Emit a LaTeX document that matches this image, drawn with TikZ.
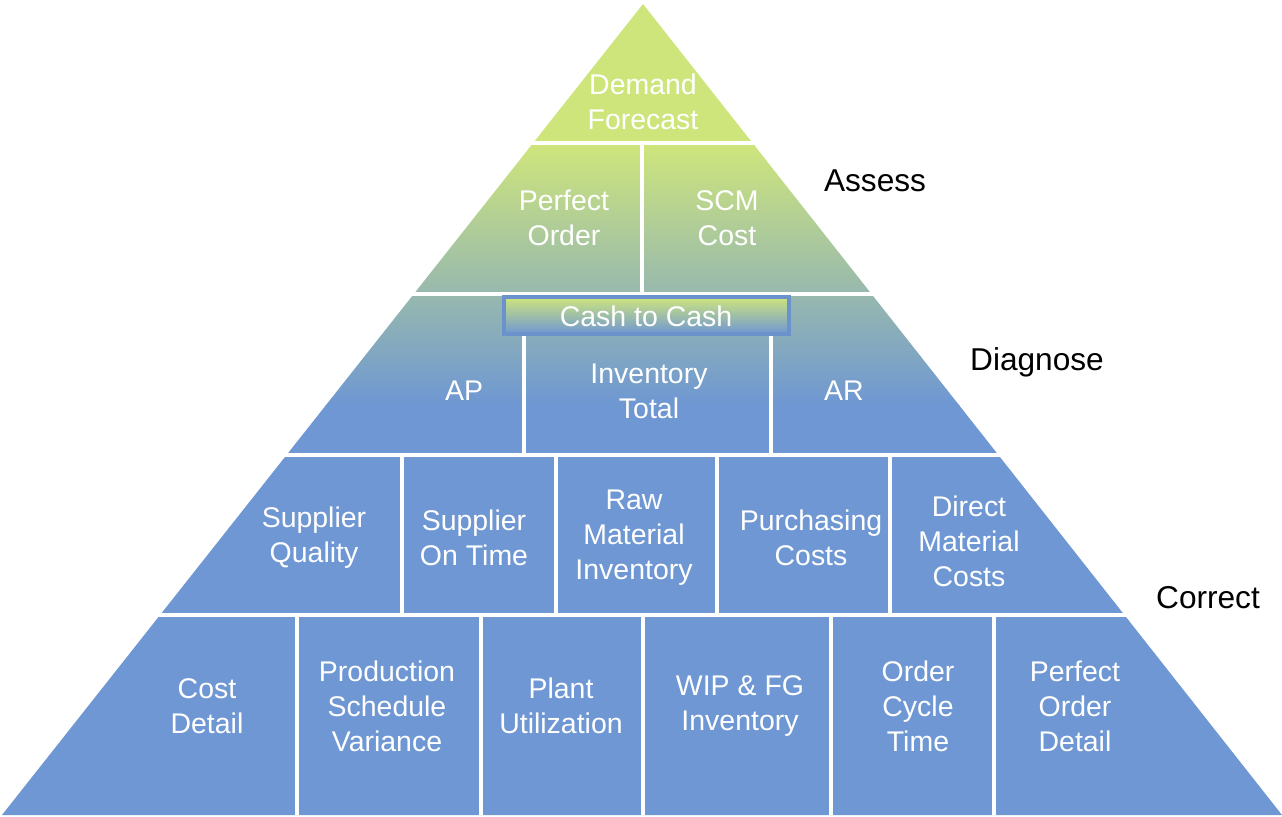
\documentclass[tikz,border=0pt]{standalone}
\usepackage{fontspec}
\setmainfont{Liberation Sans}
\definecolor{pygreen}{RGB}{206,229,124}
\definecolor{pyblue}{RGB}{110,151,211}
\definecolor{pyedge}{RGB}{108,146,206}
\begin{document}
\begin{tikzpicture}[x=0.02cm, y=-0.02cm,
        cell/.style = {text=white, align=center, font=\fontsize{16.2}{19.9}\selectfont},
        tier/.style = {text=black, font=\fontsize{18}{21}\selectfont},
        gap/.style = {draw=white, line width=2.2pt}]
    \useasboundingbox (0,0) rectangle (1282,817);

    % pyramid body
    \begin{scope}
        \clip (643,4) -- (1282,815) -- (2,815) -- cycle;
        \fill[pygreen] (0,0) rectangle (1282,146);
        \shade[top color=pygreen, bottom color=pyblue] (0,145) rectangle (1282,406);
        \fill[pyblue] (0,405) rectangle (1282,817);
    \end{scope}

    % tiers
    \foreach \y in {143,294,455,615}
        \draw[gap] (0,\y) -- (1282,\y);
    \draw[gap] (642,143) -- (642,294);
    \foreach \x in {524,771}
        \draw[gap] (\x,335) -- (\x,455);
    \foreach \x in {402,556,717,890}
        \draw[gap] (\x,455) -- (\x,615);
    \foreach \x in {297,481,643,831,994}
        \draw[gap] (\x,615) -- (\x,815);

    \shade[top color=pygreen, bottom color=pyblue, draw=pyedge, line width=1.9pt]
        (504,297) rectangle (789,334);

    \node[cell] (demand) at (643,102) {Demand\\Forecast};
    \node[cell] (perfect) at (564,218) {Perfect\\Order};
    \node[cell] (scm) at (727,218) {SCM\\Cost};
    \node[cell] (cash) at (646,316) {Cash to Cash};
    \node[cell] (ap) at (464,391) {AP};
    \node[cell] (inv) at (649,391) {Inventory\\Total};
    \node[cell] (ar) at (844,391) {AR};

    \node[cell] (squal) at (314,538) {Supplier\\Quality};
    \node[cell] (stime) at (474,538) {Supplier\\On Time};
    \node[cell] (raw) at (634,538) {Raw\\Material\\Inventory};
    \node[cell] (purch) at (811,538) {Purchasing\\Costs};
    \node[cell] (direct) at (969,541) {Direct\\Material\\Costs};

    \node[cell] (cost) at (207,706) {Cost\\Detail};
    \node[cell] (sched) at (387,706) {Production\\Schedule\\Variance};
    \node[cell] (plant) at (561,706) {Plant\\Utilization};
    \node[cell] (wip) at (740,706) {WIP \& FG\\Inventory};
    \node[cell] (cycle) at (918,706) {Order\\Cycle\\Time};
    \node[cell] (pod) at (1075,706) {Perfect\\Order\\Detail};

    \node[tier] (assess) at (875,181) {Assess};
    \node[tier] (diagnose) at (1037,362) {Diagnose};
    \node[tier] (correct) at (1208,598) {Correct};
\end{tikzpicture}
\end{document}
